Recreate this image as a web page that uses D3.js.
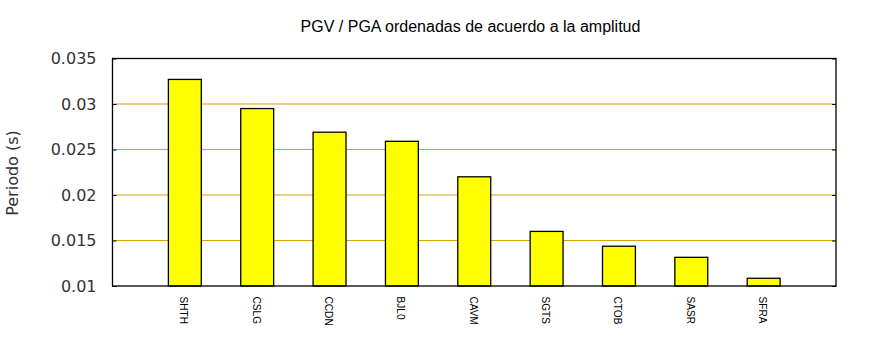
<!DOCTYPE html>
<html><head><meta charset="utf-8">
<script src="https://cdn.jsdelivr.net/npm/d3@7"></script>
<style>body{margin:0;background:#fff}</style>
</head><body>
<svg id="c" width="870" height="350"></svg>
<script>
const categories = ["SHTH","CSLG","CCDN","BJL0","CAVM","SGTS","CTOB","SASR","SFRA"];
const values = [0.0327,0.0295,0.0269,0.0259,0.0220,0.0160,0.01437,0.01315,0.01085];
const yTicks = [0.01,0.015,0.02,0.025,0.03,0.035];
const yTickLabels = ["0.01","0.015","0.02","0.025","0.03","0.035"];
const title = "PGV / PGA ordenadas de acuerdo a la amplitud";
const yLabel = "Periodo (s)";

const svg = d3.select("#c");
const L = 112.5, R = 836, T = 58.5, B = 286;
const x = d3.scaleLinear().domain([0, categories.length + 1]).range([L, R]);
const y = d3.scaleLinear().domain([0.01, 0.035]).range([B, T]);
const bw = (x(1) - x(0)) * 0.455;

// gridlines
svg.append("g").selectAll("line").data(yTicks.slice(1, -1)).join("line")
  .attr("x1", L).attr("x2", R).attr("y1", d => y(d)).attr("y2", d => y(d))
  .attr("stroke", "#e0a000").attr("stroke-width", 1.2);

// y axis left (ticks inward)
const yAxisL = d3.axisLeft(y).tickValues(yTicks).tickFormat((d, i) => yTickLabels[i]).tickSizeInner(-4).tickSizeOuter(0).tickPadding(16);
const gL = svg.append("g").attr("transform", `translate(${L},0)`).call(yAxisL);
gL.select(".domain").remove();
gL.selectAll("line").attr("stroke", "#000");
gL.selectAll("text").attr("font-family", "DejaVu Sans").attr("font-size", 16).attr("fill", "#333");

const yAxisR = d3.axisRight(y).tickValues(yTicks).tickFormat("").tickSizeInner(-4).tickSizeOuter(0);
const gR = svg.append("g").attr("transform", `translate(${R},0)`).call(yAxisR);
gR.select(".domain").remove();
gR.selectAll("line").attr("stroke", "#000");

// bars
svg.append("g").selectAll("rect").data(values).join("rect")
  .attr("x", (d, i) => x(i + 1) - bw / 2)
  .attr("width", bw)
  .attr("y", d => y(d))
  .attr("height", d => B - y(d))
  .attr("fill", "#ffff00").attr("stroke", "#000").attr("stroke-width", 1.3);

// frame
svg.append("rect").attr("x", L).attr("y", T).attr("width", R - L).attr("height", B - T)
  .attr("fill", "none").attr("stroke", "#000").attr("stroke-width", 1.3);

// x labels rotated
svg.append("g").selectAll("text").data(categories).join("text")
  .attr("transform", (d, i) => `translate(${x(i + 1) - 4.5},296.5) rotate(90) scale(0.88,1)`)
  .attr("font-family", "Liberation Sans, Arial, sans-serif").attr("font-size", 11.5)
  .attr("fill", "#000").text(d => d);

// title
svg.append("text").attr("x", 470.5).attr("y", 31.5).attr("text-anchor", "middle")
  .attr("font-family", "Liberation Sans, Arial, sans-serif").attr("font-size", 16)
  .attr("fill", "#000").text(title);

// y label
svg.append("text").attr("transform", "translate(18,173) rotate(-90)").attr("text-anchor", "middle")
  .attr("font-family", "DejaVu Sans").attr("font-size", 16).attr("fill", "#333").text(yLabel);
</script>
</body></html>
